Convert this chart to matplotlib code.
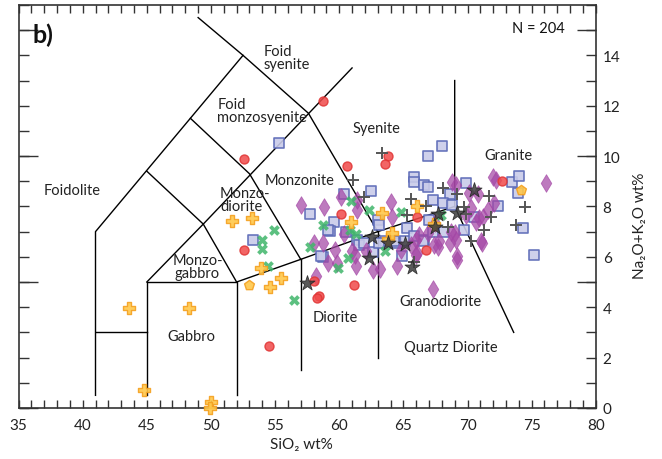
import numpy as np
import matplotlib.pyplot as plt
from matplotlib.ticker import MultipleLocator, FixedLocator, FuncFormatter

plt.rcParams['font.family'] = ['Lato', 'DejaVu Sans']

# ---- field boundaries (SiO2, Na2O+K2O) ----
boundaries = [
    [(41, 0.5), (41, 7), (52.5, 14)],
    [(41, 3), (45, 3)],
    [(45, 0.5), (45, 5), (52, 5), (52, 0.5)],
    [(45, 5), (49.4, 7.3), (52, 5)],
    [(45, 9.4), (49.4, 7.3), (61, 13.5)],
    [(48.4, 11.5), (53, 9.3), (57, 5.9)],
    [(49, 15.5), (52.5, 14), (57.6, 11.7), (63, 7)],
    [(52, 5), (57, 5.9), (63, 7), (69, 8)],
    [(57, 1.5), (57, 5.9)],
    [(63, 2), (63, 7)],
    [(69, 13), (69, 8), (73.6, 3)],
]

field_names = ["Foidolite", "Foid\nsyenite", "Foid\nmonzosyenite", "Monzo-\ndiorite",
               "Monzonite", "Syenite", "Granite", "Monzo-\ngabbro", "Gabbro",
               "Diorite", "Granodiorite", "Quartz Diorite"]
field_x = [39.2, 54.1, 50.5, 50.7, 56.9, 62.9, 73.2, 48.95, 48.5, 59.7, 67.9, 68.7]
field_y = [8.66, 13.9, 11.8, 8.26, 9.05, 11.13, 10.04, 5.62, 2.86, 3.62, 4.24, 2.4]
field_ha = ["center", "left", "left", "left", "center", "center", "center", "center",
            "center", "center", "center", "center"]

# ---- samples ----
circle_x = [58.7, 52.56, 63.8, 63.6, 60.6, 60.1, 72.7, 66.05, 52.56, 54.5, 58.05, 58.4, 58.3, 61.16, 66.8]
circle_y = [12.2, 9.88, 10.0, 9.7, 9.6, 7.7, 9.02, 7.6, 6.27, 2.44, 5.03, 4.44, 4.35, 4.87, 6.26]

square_x = [55.3, 53.27, 58.7, 57.7, 62.45, 60.4, 59.6, 59.3, 60.5, 61.4, 63.0, 63.1, 58.55,
            65.85, 65.85, 68.0, 66.9, 66.6, 66.9, 69.9, 68.6, 67.3, 68.1, 68.8, 73.5, 74.05,
            73.9, 72.4, 74.3, 65.3, 67.0, 69.75, 75.2, 70.5, 66.6, 61.55, 61.9, 62.6, 63.6,
            64.4, 65.1, 66.5, 67.3, 68.2, 64.9, 63.1, 59.1, 64.3, 65.8]
square_y = [10.53, 6.65, 6.0, 7.7, 8.63, 8.49, 7.38, 7.04, 7.0, 6.68, 7.47, 7.27, 6.02,
            9.18, 8.98, 10.4, 10.0, 8.85, 8.79, 8.92, 8.49, 8.26, 8.13, 8.06, 8.98, 9.21,
            8.55, 8.0, 7.14, 7.14, 7.47, 7.07, 6.07, 7.6, 6.68, 6.48, 6.55, 6.18, 6.61,
            6.55, 6.61, 6.61, 7.0, 7.0, 6.05, 6.55, 7.07, 6.61, 6.81]

diamond_x = [57.0, 58.8, 60.1, 61.4, 61.4, 64.0, 64.1, 68.8, 69.1, 70.1, 70.8, 72.0, 72.2,
             76.1, 70.3, 72.1, 71.6, 71.2, 61.0, 59.86, 61.3, 62.07, 62.6, 63.16, 64.5,
             64.8, 66.1, 66.2, 65.6, 67.4, 67.8, 68.6, 69.2, 69.2, 71.1, 67.3, 69.0, 66.9,
             58.2, 58.0, 58.7, 59.7, 59.1, 61.2, 66.0, 66.0, 67.5, 69.9, 70.9, 70.7, 71.05,
             69.1, 67.7, 68.7, 60.4]
diamond_y = [8.04, 7.97, 8.39, 8.26, 7.87, 8.17, 7.6, 8.98, 8.85, 8.55, 8.5, 9.18, 9.05,
             8.94, 7.93, 8.13, 7.87, 7.6, 6.22, 5.76, 5.62, 6.22, 5.49, 5.52, 5.62,
             6.28, 6.15, 6.88, 6.48, 6.48, 6.61, 6.55, 6.02, 5.89, 6.55, 4.73, 6.94, 6.94,
             5.23, 6.55, 6.55, 6.26, 5.76, 6.09, 6.68, 6.09, 7.34, 7.67, 7.54, 7.4, 6.61,
             6.68, 6.41, 7.0, 6.9]

xcross_x = [54.0, 54.0, 54.47, 56.45, 54.9, 58.7, 60.9, 62.3, 57.75, 60.8, 61.3, 64.8,
            63.6, 60.7, 59.9, 67.9]
xcross_y = [6.66, 6.3, 5.63, 4.3, 7.06, 7.25, 8.22, 7.85, 6.4, 7.07, 6.9, 7.77,
            6.22, 5.96, 5.54, 7.67]

pfill_x = [43.63, 48.27, 44.8, 50.0, 49.9, 51.65, 53.2, 53.87, 55.43, 54.6, 60.9, 63.3,
           63.8, 66.1, 67.4, 64.1]
pfill_y = [3.98, 3.98, 0.71, 0.25, 0.0, 7.44, 7.56, 5.55, 5.15, 4.82, 7.4, 7.73,
           6.7, 8.0, 7.3, 6.95]

pent_x = [52.95, 74.2]
pent_y = [4.9, 8.66]

plus_x = [63.3, 61.1, 61.9, 65.6, 68.06, 69.2, 71.7, 74.45, 73.75, 65.3, 69.75, 69.9,
          66.75, 68.45, 70.3, 71.8, 71.3, 65.8]
plus_y = [10.12, 9.05, 8.37, 8.28, 8.72, 8.5, 8.4, 7.96, 7.28, 7.65, 7.98, 7.72,
          8.0, 7.2, 6.63, 7.6, 7.05, 5.8]

star_x = [57.46, 62.55, 62.35, 63.8, 65.1, 65.7, 67.5, 67.7, 69.2, 70.5]
star_y = [4.98, 6.8, 5.94, 6.53, 6.5, 5.59, 7.2, 7.7, 7.75, 8.66]

n_samples = 204

fig = plt.figure(figsize=(6.62, 4.6), dpi=100)
ax = fig.add_axes([0.028, 0.111, 0.872, 0.876])

for seg in boundaries:
    xs, ys = zip(*seg)
    ax.plot(xs, ys, color="black", lw=1.0, zorder=2)

for name, x, y, ha in zip(field_names, field_x, field_y, field_ha):
    ax.text(x, y, name, ha=ha, va="center", fontsize=10.5, color="#222222",
            linespacing=0.9, zorder=3)

ax.scatter(square_x, square_y, marker="s", s=48, facecolor="#c9cbe9", edgecolor="#5b69b7",
           linewidth=1.2, alpha=0.9, zorder=4)
ax.scatter(diamond_x, diamond_y, marker="d", s=80, color="#a447a6", alpha=0.72,
           linewidth=0.6, zorder=5)
ax.scatter(circle_x, circle_y, marker="o", s=42, facecolor="#f04a4a", edgecolor="#e03434",
           alpha=0.85, zorder=6)
ax.scatter(xcross_x, xcross_y, marker="X", s=60, color="#3fb56a", alpha=0.85,
           linewidth=0, zorder=6)
ax.scatter(pfill_x, pfill_y, marker="P", s=65, facecolor="#ffc84a", edgecolor="#f4a020",
           linewidth=1.0, alpha=0.9, zorder=7, clip_on=False)
ax.scatter(pent_x, pent_y, marker="p", s=55, facecolor="#ffc84a", edgecolor="#f4a020",
           linewidth=1.0, alpha=0.9, zorder=7)
ax.scatter(plus_x, plus_y, marker="+", s=65, color="#555555", linewidth=1.4, zorder=8)
ax.scatter(star_x, star_y, marker="*", s=130, facecolor="#3c3c3c", edgecolor="#222222",
           linewidth=0.6, alpha=0.85, zorder=9)

ax.set_xlim(35, 80)
ax.set_ylim(0, 16)

for sp in ax.spines.values():
    sp.set_color("#333333")
    sp.set_linewidth(1.2)

# x ticks
ax.xaxis.set_major_locator(MultipleLocator(5))
ax.xaxis.set_minor_locator(MultipleLocator(1))
ax.tick_params(axis="x", which="both", direction="in", top=True, bottom=True,
               length=6, width=1.0, color="#333333", labelsize=11, pad=7,
               labelcolor="#222222")

# y ticks: long ticks every 5, short every 1, labels every 2 on the right
ax.yaxis.set_major_locator(FixedLocator([0, 5, 10, 15]))
ax.yaxis.set_minor_locator(MultipleLocator(1))
ax.yaxis.remove_overlapping_locs = False
ax.yaxis.set_major_formatter(FuncFormatter(lambda v, p: ""))
ax.yaxis.set_minor_formatter(FuncFormatter(lambda v, p: "%d" % v if int(v) % 2 == 0 and v < 15 else ""))
ax.tick_params(axis="y", which="major", direction="in", left=True, right=True,
               length=14, width=1.0, color="#333333", labelleft=False, labelright=False)
ax.tick_params(axis="y", which="minor", direction="in", left=True, right=True,
               length=7, width=1.0, color="#333333", labelleft=False, labelright=True,
               labelsize=11, pad=5, labelcolor="#222222")

ax.set_xlabel("SiO₂ wt%", fontsize=11, color="#222222")
ax.xaxis.set_label_coords(0.49, -0.072)
ax.yaxis.set_label_position("right")
ax.set_ylabel("Na₂O+K₂O wt%", fontsize=11, color="#222222")
ax.yaxis.set_label_coords(1.065, 0.455)

ax.text(0.025, 0.928, "b)", transform=ax.transAxes, fontsize=18, fontweight="bold",
        ha="left", va="center", color="#111111")
ax.text(0.947, 0.943, "N = %d" % n_samples, transform=ax.transAxes, fontsize=10.5,
        ha="right", va="center", color="#111111")

fig.savefig("out.png", dpi=100)
